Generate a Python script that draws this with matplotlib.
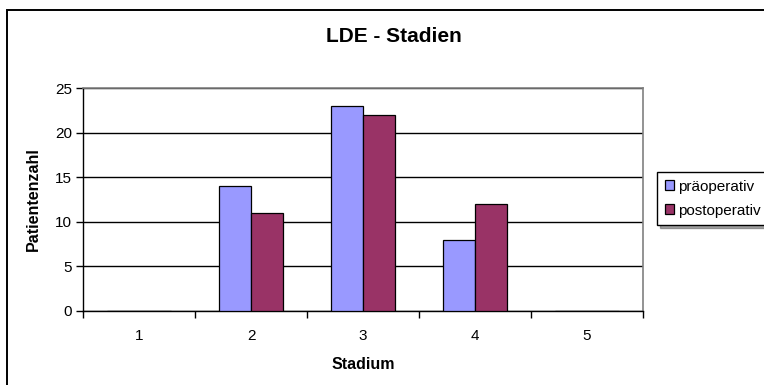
import matplotlib.pyplot as plt
import numpy as np
from matplotlib.patches import Rectangle

plt.rcParams["font.family"] = ["Liberation Sans", "DejaVu Sans"]

stadien = ["1", "2", "3", "4", "5"]
praeoperativ = [0, 14, 23, 8, 0]
postoperativ = [0, 11, 22, 12, 0]
series_names = ["präoperativ", "postoperativ"]
y_ticks = [0, 5, 10, 15, 20, 25]

W, H = 764, 385
fig = plt.figure(figsize=(W / 100, H / 100), dpi=100)

# outer chart frame (runs off the right and bottom edge)
fig.patches.append(Rectangle((7 / W, -0.2), 1.2, 1.2 - 10 / H, transform=fig.transFigure,
                             fill=False, edgecolor="black", linewidth=1.4, zorder=0))

ax = fig.add_axes([83 / W, 1 - 311 / H, 560 / W, 223 / H])
x = np.arange(len(stadien))
bw = 0.29
ax.bar(x - bw / 2, praeoperativ, bw, color="#9999FF", edgecolor="black", linewidth=0.9,
       label=series_names[0], zorder=3)
ax.bar(x + bw / 2, postoperativ, bw, color="#993366", edgecolor="black", linewidth=0.9,
       label=series_names[1], zorder=3)

ax.set_xlim(-0.5, len(stadien) - 0.5)
ax.set_ylim(0, 25)
ax.set_yticks(y_ticks)
ax.yaxis.grid(True, color="black", linewidth=1, zorder=0)
ax.set_axisbelow(True)

# category separators as major ticks, labels on the minor ones
ax.set_xticks(np.arange(len(stadien) + 1) - 0.5)
ax.set_xticklabels([])
ax.set_xticks(x, minor=True)
ax.set_xticklabels(stadien, minor=True)
ax.tick_params(axis="x", which="major", length=5, width=1, direction="out")
ax.tick_params(axis="x", which="minor", length=0, pad=13, labelsize=11)
ax.tick_params(axis="y", length=5, width=1, labelsize=11, pad=3)

for side in ("top", "right"):
    ax.spines[side].set_color("#808080")
    ax.spines[side].set_linewidth(1.2)
for side in ("left", "bottom"):
    ax.spines[side].set_linewidth(1)

ax.set_xlabel("Stadium", fontweight="bold", fontsize=11.5, labelpad=10)
ax.set_ylabel("Patientenzahl", fontweight="bold", fontsize=11.5, labelpad=10)

fig.text(394 / W, 1 - 37 / H, "LDE - Stadien", ha="center", va="center",
         fontweight="bold", fontsize=15)

leg = fig.legend(loc="upper left", bbox_to_anchor=(657 / W, 1 - 172 / H),
                 fontsize=11, frameon=True, fancybox=False, shadow=True,
                 handlelength=0.6, handleheight=0.6, handletextpad=0.3,
                 borderaxespad=0, borderpad=0.5, labelspacing=0.65)
leg.get_frame().set_edgecolor("black")
leg.get_frame().set_linewidth(1)

fig.savefig("out.png", dpi=100)
